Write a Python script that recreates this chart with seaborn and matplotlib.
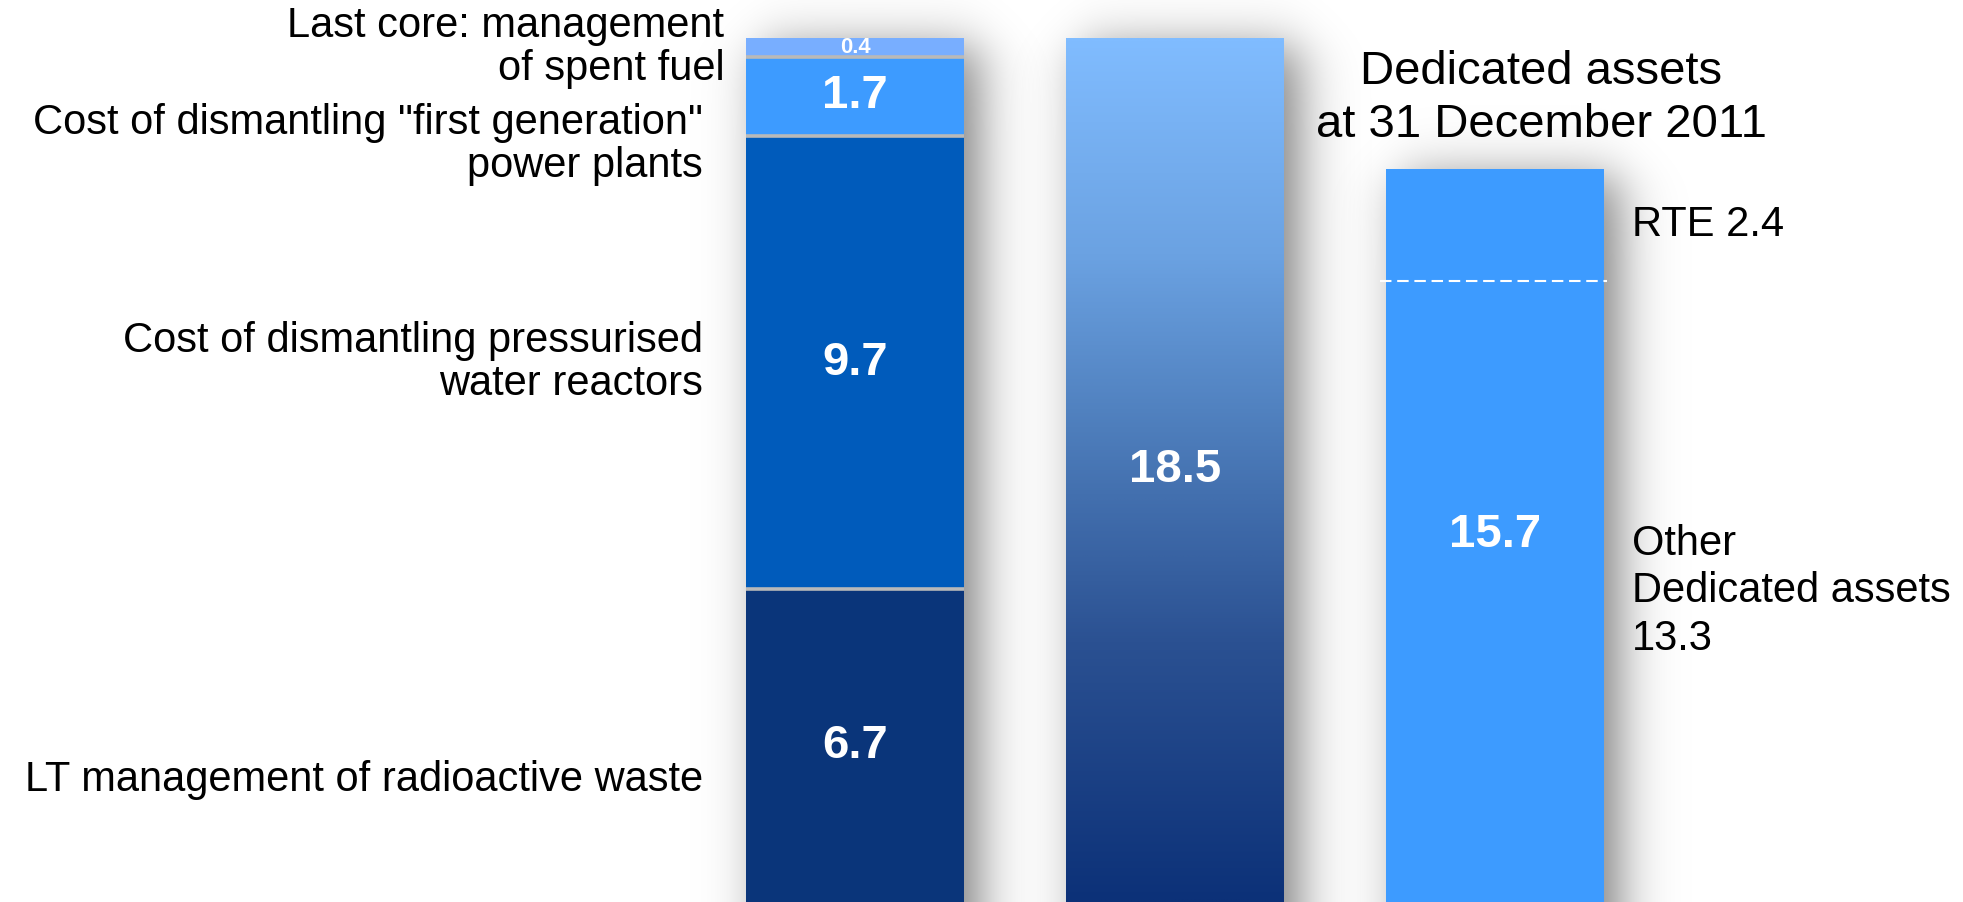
import numpy as np
import pandas as pd
import matplotlib
matplotlib.use("Agg")
import matplotlib.pyplot as plt
import seaborn as sns
from matplotlib.colors import LinearSegmentedColormap

# ---------------- data ----------------
columns = ["Provisions", "Total provisions", "Dedicated assets"]
component_labels = [
    "LT management of radioactive waste",
    "Cost of dismantling pressurised\nwater reactors",
    'Cost of dismantling "first generation"\npower plants',
    "Last core: management\nof spent fuel",
]
component_values = [6.7, 9.7, 1.7, 0.4]
total_value = 18.5
asset_labels = ["Other\nDedicated assets\n13.3", "RTE 2.4"]
asset_values = [13.3, 2.4]
asset_total = 15.7
title_text = "Dedicated assets\nat 31 December 2011"

# ---------------- style ----------------
component_colors = ["#0A357A", "#005BBB", "#3D9BFF", "#78AEFF"]
asset_color = "#3D9BFF"
grad_stops = [(0.0, "#0C3178"), (0.3, "#2B5192"), (0.55, "#4E7EBC"),
              (0.75, "#6BA2E2"), (1.0, "#80BCFF")]

sns.set_theme(style="white")
plt.rcParams["font.family"] = ["Liberation Sans", "DejaVu Sans"]

W, H, DPI = 1963, 902, 100
fig = plt.figure(figsize=(W / DPI, H / DPI), dpi=DPI)
ax = fig.add_axes([0, 0, 1, 1])

BAR_W = 0.68
TOP_MARGIN_PX = 38
PITCH_PX = 320
FIRST_CENTER_PX = 855
ymax = total_value / (1 - TOP_MARGIN_PX / H)
xmin = -FIRST_CENTER_PX / PITCH_PX
xmax = (W - FIRST_CENTER_PX) / PITCH_PX
px_x = PITCH_PX               # pixels per x unit
px_y = H / ymax               # pixels per y unit

bar_kw = dict(saturation=1, width=BAR_W, errorbar=None, ax=ax, zorder=3,
              edgecolor="none", linewidth=0)

# ---------------- bars ----------------
cum = np.cumsum(component_values)
seg_patches = {}
for i in reversed(range(len(component_values))):
    sns.barplot(x=[columns[0]], y=[cum[i]], order=columns, color=component_colors[i], **bar_kw)
    seg_patches[i] = ax.patches[-1]

sns.barplot(x=[columns[1]], y=[total_value], order=columns, color="#4E7EBC", **bar_kw)
total_patch = ax.patches[-1]

sns.barplot(x=[columns[2]], y=[asset_total], order=columns, color=asset_color, **bar_kw)
asset_patch = ax.patches[-1]

# gradient fill of the total bar
cmap = LinearSegmentedColormap.from_list("grad", grad_stops)
p = total_patch
grad = np.linspace(0, 1, 512).reshape(-1, 1)
im = ax.imshow(grad, extent=[p.get_x(), p.get_x() + p.get_width(), 0, p.get_height()],
               origin="lower", cmap=cmap, aspect="auto", zorder=3.5, interpolation="bilinear")
im.set_clip_path(p)


# soft drop shadows
def sig(z):
    return 1.0 / (1.0 + np.exp(-z))


def add_shadow(patch, shift_px=16, blur_px=15, strength=0.5):
    x0 = patch.get_x()
    x1 = x0 + patch.get_width()
    top = patch.get_y() + patch.get_height()
    ex0, ex1 = x0 - 0.3, x1 + 0.45
    ey0, ey1 = -1.0, top + 1.5
    xs = np.linspace(ex0, ex1, 300)
    ys = np.linspace(ey0, ey1, 400)
    xp = (xs - x0) * px_x
    wpx = (x1 - x0) * px_x
    sx = sig((xp - shift_px) / blur_px) - sig((xp - wpx - shift_px) / blur_px)
    yp = (top - ys) * px_y  # distance below top in px
    sy = sig((yp - shift_px * 0.5) / blur_px)
    alpha = strength * sy[:, None] * sx[None, :]
    rgba = np.zeros((len(ys), len(xs), 4))
    rgba[..., 3] = alpha
    ax.imshow(rgba, extent=[ex0, ex1, ey0, ey1], origin="lower", aspect="auto",
              zorder=1, interpolation="bilinear")


add_shadow(seg_patches[len(component_values) - 1])
add_shadow(total_patch)
add_shadow(asset_patch)

# separators in the stacked bar
b0 = seg_patches[0]
bx0, bx1 = b0.get_x(), b0.get_x() + b0.get_width()
ax.hlines(cum[:-1], bx0, bx1, color="#b9b9b9", lw=2.6, zorder=4)

# dashed split in dedicated-assets bar
a0 = asset_patch.get_x()
a1 = a0 + asset_patch.get_width()
ax.hlines(asset_values[0], a0 - 0.02, a1 + 0.01, color="white", lw=1.5,
          linestyles=(0, (5.5, 2.75)), zorder=5)

# ---------------- value labels ----------------
PT = 72 / DPI
for i, v in enumerate(component_values):
    seg_px = v * px_y
    fs = min(34, 0.85 * seg_px / 0.72 * PT)
    ax.text((bx0 + bx1) / 2, cum[i] - v / 2, f"{v:.1f}", color="white", fontsize=fs,
            fontweight="bold", ha="center", va="center", zorder=6)

tp = total_patch
ax.text(tp.get_x() + tp.get_width() / 2, total_value / 2, f"{total_value:.1f}", color="white",
        fontsize=34, fontweight="bold", ha="center", va="center", zorder=6)
ax.text((a0 + a1) / 2, asset_total / 2, f"{asset_total:.1f}", color="white",
        fontsize=34, fontweight="bold", ha="center", va="center", zorder=6)

# ---------------- category labels (left) ----------------
left_offsets_px = [(-43, -34), (-43, 0), (-43, -48), (-22, 0)]
for i, lab in enumerate(component_labels):
    dx, dy = left_offsets_px[i]
    ax.annotate(lab, xy=(bx0, cum[i] - component_values[i] / 2),
                xytext=(dx * PT, dy * PT), textcoords="offset points",
                ha="right", va="center", fontsize=30, color="black",
                linespacing=1.1, zorder=6)

# ---------------- asset labels (right) ----------------
bases = np.concatenate([[0], np.cumsum(asset_values)[:-1]])
for lab, base, v in zip(asset_labels, bases, asset_values):
    ax.annotate(lab, xy=(a1, base + v / 2), xytext=(28 * PT, 0),
                textcoords="offset points", ha="left", va="center",
                fontsize=30, color="black", linespacing=1.25, zorder=6)

ax.annotate(title_text, xy=((a0 + a1) / 2, asset_total), xytext=(46 * PT, 22 * PT),
            textcoords="offset points", ha="center", va="bottom",
            fontsize=34, color="black", linespacing=1.25, zorder=6)

ax.set_xlim(xmin, xmax)
ax.set_ylim(0, ymax)
ax.axis("off")

fig.savefig("out.png", dpi=DPI, facecolor="white")
